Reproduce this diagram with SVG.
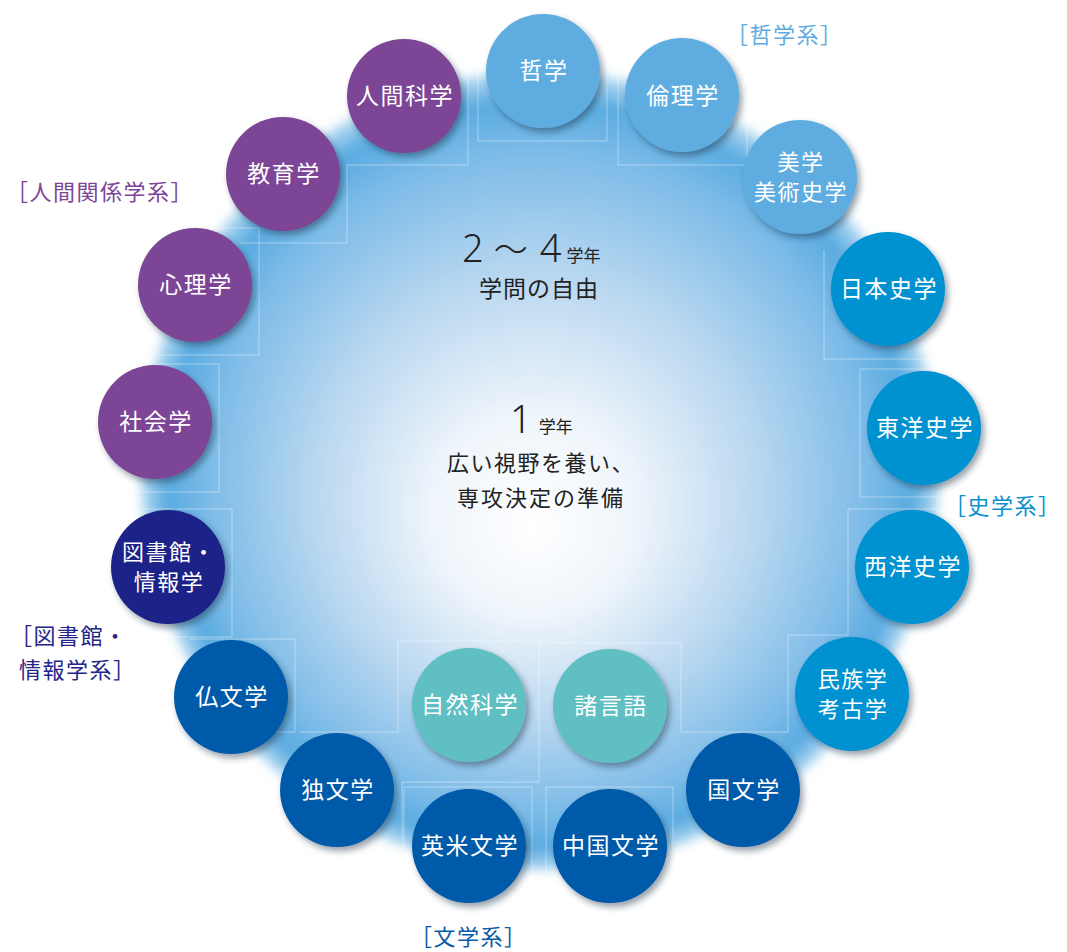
<svg xmlns="http://www.w3.org/2000/svg" width="1067" height="952" viewBox="0 0 1067 952">
<defs>
<radialGradient id="bg" cx="540" cy="470" r="405" fx="532" fy="530" gradientUnits="userSpaceOnUse">
<stop offset="0" stop-color="#ffffff"/>
<stop offset="0.25" stop-color="#eff5fb"/>
<stop offset="0.55" stop-color="#b8d7f0"/>
<stop offset="0.8" stop-color="#80bde8"/>
<stop offset="0.92" stop-color="#5aabe1"/>
<stop offset="0.97" stop-color="#5eaee2" stop-opacity="0.6"/>
<stop offset="1" stop-color="#6ab4e4" stop-opacity="0"/>
</radialGradient>
<filter id="sh" x="-30%" y="-30%" width="160%" height="160%">
<feDropShadow dx="3" dy="4" stdDeviation="3" flood-color="#1a2a40" flood-opacity="0.45"/>
</filter>
<filter id="blur" x="-10%" y="-10%" width="120%" height="120%">
<feGaussianBlur stdDeviation="4"/>
</filter>
</defs>
<style>
.pu{fill:#7b4595}
.lb{fill:#5fade0}
.hi{fill:#0091d0}
.bu{fill:#005aaa}
.nv{fill:#1e2087}
.tl{fill:#60bfc3}
.t{fill:#ffffff;font-family:"Noto Sans CJK JP","Noto Sans",sans-serif;font-size:23px;letter-spacing:1.5px;text-anchor:middle}
.t2{font-size:22px}
.c{fill:#222222;font-family:"Noto Sans CJK JP","Noto Sans",sans-serif;text-anchor:middle}
.num{fill:#222222;font-family:"Noto Sans","Noto Sans CJK JP",sans-serif;font-weight:300}
.g{font-family:"Noto Sans CJK JP","Noto Sans",sans-serif;font-size:22px;letter-spacing:1.5px}
.ln{fill:none;stroke:#ffffff;stroke-opacity:0.4;stroke-width:1}
</style>
<circle cx="540" cy="470" r="405" fill="url(#bg)" filter="url(#blur)"/>
<g id="connectors">
<path class="ln" d="M478,55 V141 H607 V55"/>
<path class="ln" d="M468,50 V165 H347 V243 H240"/>
<path class="ln" d="M618,50 V165 H747 V105"/>
<path class="ln" d="M110,228 H259 V355 H120"/>
<path class="ln" d="M120,364 H219 V492 H130"/>
<path class="ln" d="M140,509 H232 V637 H150"/>
<path class="ln" d="M190,639 H295 V732 H230"/>
<path class="ln" d="M300,732 H398 V641 H539 V782 H402 V880"/>
<path class="ln" d="M404,880 V787 H532 V880"/>
<path class="ln" d="M546,880 V787 H673 V880"/>
<path class="ln" d="M539,643 H681 V732 H788 V635 H848 V509 H950"/>
<path class="ln" d="M950,369 H860 V497 H960"/>
<path class="ln" d="M824,250 V359 H945"/>
</g>
<g id="n-tetsugaku"><circle class="lb" cx="543" cy="71" r="57" filter="url(#sh)"/><text class="t" x="544" y="79">哲学</text></g>
<g id="n-rinri"><circle class="lb" cx="682" cy="95" r="57" filter="url(#sh)"/><text class="t" x="683" y="104">倫理学</text></g>
<g id="n-bigaku"><circle class="lb" cx="800" cy="177" r="57" filter="url(#sh)"/><text class="t t2" x="801" y="170">美学</text><text class="t t2" x="801" y="200">美術史学</text></g>
<g id="n-nihonshi"><circle class="hi" cx="888" cy="289" r="57" filter="url(#sh)"/><text class="t" x="889" y="297">日本史学</text></g>
<g id="n-toyoshi"><circle class="hi" cx="924" cy="428" r="57" filter="url(#sh)"/><text class="t" x="925" y="436">東洋史学</text></g>
<g id="n-seiyoshi"><circle class="hi" cx="912" cy="567" r="57" filter="url(#sh)"/><text class="t" x="913" y="575">西洋史学</text></g>
<g id="n-minzoku"><circle class="hi" cx="852" cy="694" r="57" filter="url(#sh)"/><text class="t t2" x="853" y="687">民族学</text><text class="t t2" x="853" y="717">考古学</text></g>
<g id="n-kokubun"><circle class="bu" cx="743" cy="790" r="57" filter="url(#sh)"/><text class="t" x="744" y="798">国文学</text></g>
<g id="n-chugoku"><circle class="bu" cx="610" cy="846" r="57" filter="url(#sh)"/><text class="t" x="611" y="854">中国文学</text></g>
<g id="n-eibei"><circle class="bu" cx="469" cy="846" r="57" filter="url(#sh)"/><text class="t" x="470" y="854">英米文学</text></g>
<g id="n-dokubun"><circle class="bu" cx="337" cy="790" r="57" filter="url(#sh)"/><text class="t" x="338" y="798">独文学</text></g>
<g id="n-futsubun"><circle class="bu" cx="231" cy="697" r="57" filter="url(#sh)"/><text class="t" x="232" y="705">仏文学</text></g>
<g id="n-toshokan"><circle class="nv" cx="168" cy="567" r="57" filter="url(#sh)"/><text class="t t2" x="169" y="560" letter-spacing="0">図書館・</text><text class="t t2" x="169" y="590">情報学</text></g>
<g id="n-shakai"><circle class="pu" cx="155" cy="422" r="57" filter="url(#sh)"/><text class="t" x="156" y="430">社会学</text></g>
<g id="n-shinri"><circle class="pu" cx="195" cy="285" r="57" filter="url(#sh)"/><text class="t" x="196" y="293">心理学</text></g>
<g id="n-kyoiku"><circle class="pu" cx="283" cy="174" r="57" filter="url(#sh)"/><text class="t" x="284" y="182">教育学</text></g>
<g id="n-ningen"><circle class="pu" cx="404" cy="96" r="57" filter="url(#sh)"/><text class="t" x="405" y="104">人間科学</text></g>
<g id="n-shizen"><circle class="tl" cx="469" cy="705" r="57" filter="url(#sh)"/><text class="t" x="470" y="713">自然科学</text></g>
<g id="n-shogengo"><circle class="tl" cx="610" cy="706" r="57" filter="url(#sh)"/><text class="t" x="611" y="714">諸言語</text></g>
<g id="center">
<text x="462" y="262"><tspan class="num" font-size="38">2</tspan><tspan class="num" font-size="34" dx="10">〜</tspan><tspan class="num" font-size="38" dx="12">4</tspan><tspan class="c" font-size="17" dx="5" text-anchor="start">学年</tspan></text>
<text class="c" x="539" y="297" font-size="23" letter-spacing="1">学問の自由</text>
<text x="510" y="433"><tspan class="num" font-size="38">1</tspan><tspan class="c" font-size="17" dx="7" text-anchor="start">学年</tspan></text>
<text class="c" x="541" y="471" font-size="22" letter-spacing="1.5">広い視野を養い、</text>
<text class="c" x="541" y="506" font-size="22" letter-spacing="2">専攻決定の準備</text>
</g>
<g id="groups">
<text class="g" x="6" y="200" fill="#7d4597">［人間関係学系］</text>
<text class="g" x="726" y="43" fill="#5fade0">［哲学系］</text>
<text class="g" x="944" y="514" fill="#0a8fcf" font-size="21" letter-spacing="0.5">［史学系］</text>
<text class="g" x="10" y="644" fill="#24268a">［図書館・</text>
<text class="g" x="19" y="678" fill="#24268a">情報学系］</text>
<text class="g" x="410" y="945" fill="#0a5aa8">［文学系］</text>
</g>
</svg>
